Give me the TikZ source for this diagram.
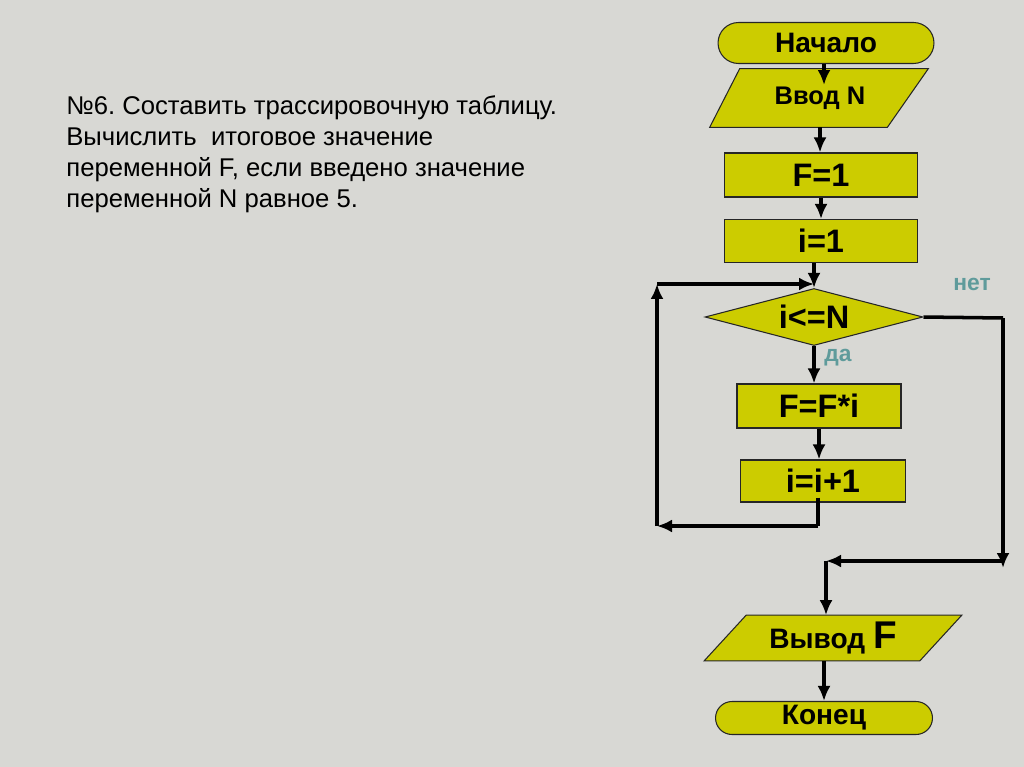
\documentclass[tikz,border=0pt]{standalone}
\usepackage{fontspec}
\setmainfont{Liberation Sans}
\usepackage{tikz}
\usetikzlibrary{arrows.meta,shapes.geometric,shapes.misc,backgrounds}
\definecolor{bgray}{RGB}{216,216,212}
\definecolor{olive}{RGB}{204,204,0}
\definecolor{teal}{RGB}{95,155,155}
\newcommand{\fs}[1]{\fontsize{#1}{1.2\dimexpr#1\relax}\selectfont}
\frenchspacing

\begin{document}
\begin{tikzpicture}[
  x=0.02cm, y=-0.02cm,
  term/.style={draw=black!85, line width=0.6pt, fill=olive, rounded rectangle, inner sep=0pt, font=\bfseries\fs{16pt}},
  iobox/.style={rectangle, inner sep=0pt, font=\bfseries\fs{14.5pt}},
  io/.style={draw=black!85, line width=0.6pt, fill=olive},
  proc/.style={draw=black!85, line width=0.6pt, fill=olive, rectangle, inner sep=0pt, font=\bfseries\fs{18.5pt}},
  cond/.style={draw=black!85, line width=0.6pt, fill=olive, diamond, aspect=3.8, inner sep=0pt, font=\bfseries\fs{18.5pt}},
  answer/.style={text=teal, font=\bfseries\fs{13pt}},
  flow/.style={-{Latex[length=3mm,width=2.6mm]}, line width=2pt},
  link/.style={line width=2pt}
]
\begin{scope}[on background layer]
\fill[bgray] (0,0) rectangle (1024,767);
\end{scope}
\useasboundingbox (0,0) rectangle (1024,767);

\node[anchor=north west, align=left, font=\fontsize{14.6pt}{17.8pt}\selectfont, inner sep=0pt] (task) at (66,95)
  {№6. Составить трассировочную таблицу.\\Вычислить~ итоговое значение\\переменной F, если введено значение\\переменной N равное 5.};

\node[term, minimum width=4.32cm, minimum height=0.82cm] (start) at (826,43) {Начало};
\node[iobox, minimum width=4.4cm, minimum height=1.16cm] (input) at (820,98) {Ввод N};
\node[proc, minimum width=3.86cm, minimum height=0.88cm] (f1) at (821,175) {F=1};
\node[proc, minimum width=3.86cm, minimum height=0.86cm] (i1) at (821,241) {i=1};
\node[cond, minimum width=4.36cm, minimum height=1.14cm] (check) at (814,317) {i<=N};
\node[proc, minimum width=3.28cm, minimum height=0.88cm] (mult) at (819,406) {F=F*i};
\node[proc, minimum width=3.3cm, minimum height=0.84cm] (inc) at (823,481) {i=i+1};
\node[iobox, minimum width=5.14cm, minimum height=0.9cm, font=\bfseries\fs{16pt}] (output) at (833,638) {Вывод {\fs{22pt}F}};
\node[term, minimum width=4.34cm, minimum height=0.66cm] (stop) at (824,718) {Конец};

\begin{scope}[on background layer]
\path[io] ([xshift=0.6cm]input.north west) -- ([xshift=-0.04cm]input.north east) -- ([xshift=-0.86cm]input.south east) -- (input.south west) -- cycle;
\path[io] ([xshift=0.84cm]output.north west) -- (output.north east) -- ([xshift=-0.84cm]output.south east) -- (output.south west) -- cycle;
\end{scope}

\node[answer] (no) at (972,284) {нет};
\node[answer] (yes) at (838,358) {да};

\coordinate (inN) at (824,85);
\coordinate (backA) at (818,526);
\coordinate (backB) at (657,526);
\coordinate (backC) at (657,284);
\coordinate (exitA) at (1003,318);
\coordinate (exitB) at (1003,568);
\coordinate (exitC) at (826,561);

\draw[flow] (start.south -| inN) -- (inN);
\draw[flow] (input.south) -- (input.south |- f1.north);
\draw[flow] (f1.south) -- (f1.south |- i1.north);
\draw[flow] (i1.south -| check.north) -- (check.north);
\draw[flow] (check.south) -- (check.south |- mult.north);
\draw[flow] (mult.south) -- (mult.south |- inc.north);

\draw[link] ([yshift=0.1cm]inc.south -| backA) -- (backA);
\draw[flow] (backA) -- (backB);
\draw[flow] (backB) -- (backC);
\draw[flow] (backC) -- (backC -| check.north);

\draw[link] (check.east) -- (exitA);
\draw[flow] (exitA) -- (exitB);
\draw[flow] (exitB |- exitC) -- (exitC);
\draw[flow] (exitC) -- (exitC |- output.north);
\draw[flow] (output.south -| stop.north) -- (stop.north);
\end{tikzpicture}
\end{document}
